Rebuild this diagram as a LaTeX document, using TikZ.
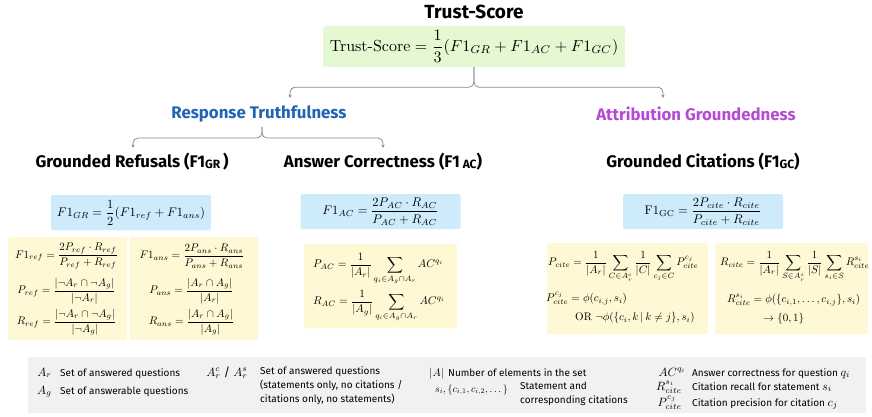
\documentclass[tikz,border=0pt]{standalone}
\usepackage{graphicx}
\usepackage{amsmath,amssymb}
\usepackage[no-math]{fontspec}
\newfontfamily\hfont{Fira Sans}
\usetikzlibrary{arrows.meta}
\definecolor{cgreen}{HTML}{E4F9D2}
\definecolor{cblue}{HTML}{CDEBFA}
\definecolor{cyellow}{HTML}{FFF8D4}
\definecolor{cgray}{HTML}{F1F1EF}
\definecolor{ctblue}{HTML}{2064B4}
\definecolor{cpurple}{HTML}{B64AD4}
\definecolor{cline}{HTML}{8C8C8C}
\tikzset{
  head/.style={inner sep=0pt, font=\hfont\bfseries\fontsize{16.8}{19}\selectfont},
  box/.style={rounded corners=1.5pt, inner sep=0pt},
  bluebox/.style={box, fill=cblue, minimum width=160pt, minimum height=35pt},
  ybox/.style={box, fill=cyellow},
  eq/.style={inner sep=0pt},
  conn/.style={draw=cline, line width=0.8pt, rounded corners=5pt, -{Stealth[length=3.5pt,width=3pt]}},
  legsym/.style={anchor=base east, inner sep=0pt},
  legtxt/.style={anchor=base west, inner sep=0pt, font=\hfont\fontsize{10}{14}\selectfont, align=left},
}
\newcommand{\subsc}[1]{\raisebox{-1pt}{\fontsize{12}{13}\selectfont #1}}
\newcommand{\dm}[2]{\scalebox{#1}{$\displaystyle #2$}}
\newcommand{\tm}[2]{\scalebox{#1}{$#2$}}
\begin{document}
\begin{tikzpicture}[x=1pt,y=-1pt]
\useasboundingbox[fill=white] (0,0) rectangle (872,417);

% title and overall score
\node[head, font=\hfont\bfseries\fontsize{19}{22}\selectfont] (title) at (474,12) {Trust-Score};
\node[box, fill=cgreen, minimum width=302pt, minimum height=41pt] (ts) at (474,46.5)
  {\dm{1.6}{\text{Trust-Score} = \frac{1}{3}(F1_{GR}+F1_{AC}+F1_{GC})}};

% categories
\node[head, text=ctblue] (rt) at (259,114) {Response Truthfulness};
\node[head, text=cpurple] (ag) at (696,114) {Attribution Groundedness};
\coordinate (rtin) at (290,98);
\coordinate (agin) at (663,98);
\draw[conn] (ts.south) -- ++(0,20) -| (rtin);
\draw[conn] (ts.south) -- ++(0,20) -| (agin);

% sub-metrics headings
\node[head] (gr) at (132,162) {Grounded Refusals (F1\subsc{GR}\,)};
\node[head] (ac) at (383,162) {Answer Correctness (F1\,\subsc{AC})};
\node[head] (gc) at (703,162) {Grounded Citations (F1\subsc{GC})};
\coordinate (rtout) at (262,127);
\coordinate (grin) at (133,148);
\coordinate (acin) at (383,148);
\draw[conn] (rtout) -- ++(0,11) -| (grin);
\draw[conn] (rtout) -- ++(0,11) -| (acin);

% blue boxes
\node[bluebox] (grf) at (131,212.5) {\dm{1.25}{F1_{GR} = \frac{1}{2}(F1_{ref}+F1_{ans})}};
\node[bluebox] (acf) at (380.5,211.5) {\dm{1.25}{F1_{AC} = \frac{2P_{AC}\cdot R_{AC}}{P_{AC}+R_{AC}}}};
\node[bluebox] (gcf) at (703,211.5) {\dm{1.25}{\mathrm{F1}_{\mathrm{GC}} = \frac{2P_{cite}\cdot R_{cite}}{P_{cite}+R_{cite}}}};

% yellow boxes
\node[ybox, minimum width=119pt, minimum height=103pt] (yl1) at (67.5,288.5) {};
\node[ybox, minimum width=128pt, minimum height=103pt] (yl2) at (194,288.5) {};
\node[ybox, minimum width=153pt, minimum height=84pt] (yac) at (380.5,286) {};
\node[ybox, minimum width=161pt, minimum height=91pt] (yg1) at (627.5,288.5) {};
\node[ybox, minimum width=153pt, minimum height=91pt] (yg2) at (791.5,288.5) {};

\node[eq] (e1) at (66.5,256) {\dm{1.1}{F1_{ref} = \frac{2P_{ref}\cdot R_{ref}}{P_{ref}+R_{ref}}}};
\node[eq] (e2) at (66.5,291) {\dm{1.1}{P_{ref} = \frac{|\neg A_r\cap\neg A_g|}{|\neg A_r|}}};
\node[eq] (e3) at (66.5,322) {\dm{1.1}{R_{ref} = \frac{|\neg A_r\cap\neg A_g|}{|\neg A_g|}}};
\node[eq] (e4) at (192,256) {\dm{1.1}{F1_{ans} = \frac{2P_{ans}\cdot R_{ans}}{P_{ans}+R_{ans}}}};
\node[eq] (e5) at (191.5,291) {\dm{1.1}{P_{ans} = \frac{|A_r\cap A_g|}{|A_r|}}};
\node[eq] (e6) at (191.5,322) {\dm{1.1}{R_{ans} = \frac{|A_r\cap A_g|}{|A_g|}}};

\node[eq, anchor=base west] (e7) at (313,267.75) {\dm{1.12}{P_{AC} = \frac{1}{|A_r|}\sum_{q_i\in A_g\cap A_r} AC^{q_i}}};
\node[eq, anchor=base west] (e8) at (313,304.75) {\dm{1.12}{R_{AC} = \frac{1}{|A_g|}\sum_{q_i\in A_g\cap A_r} AC^{q_i}}};

\node[eq, anchor=base west] (e9) at (548,265.75) {\dm{1.1}{P_{cite} = \frac{1}{|A_r|}\sum_{C\in A_r^c}\frac{1}{|C|}\sum_{c_j\in C}P_{cite}^{c_j}}};
\node[eq, anchor=base west] (e10) at (546,301.75) {\dm{1.1}{P_{cite}^{c_j} = \phi(c_{i,j},s_i)}};
\node[eq, anchor=base west] (e11) at (575,320.5) {\tm{1.1}{\text{OR}\ \neg\phi(\{c_i,k\,|\,k\neq j\},s_i)}};
\node[eq, anchor=base west] (e12) at (720,265.75) {\dm{1.1}{R_{cite} = \frac{1}{|A_r|}\sum_{S\in A_r^s}\frac{1}{|S|}\sum_{s_i\in S}R_{cite}^{s_i}}};
\node[eq, anchor=base west] (e13) at (727,302.75) {\dm{1.1}{R_{cite}^{s_i} = \phi(\{c_{i,1},\dots,c_{i,j}\},s_i)}};
\node[eq, anchor=base west] (e14) at (763,321.5) {\tm{1.1}{\rightarrow\{0,1\}}};

% legend
\node[box, fill=cgray, minimum width=838pt, minimum height=56pt] (leg) at (447,385) {};
\node[legsym] (s1) at (52,376) {\tm{1.2}{A_r}};
\node[legtxt] (t1) at (60,376) {Set of answered questions};
\node[legsym] (s2) at (52,394) {\tm{1.2}{A_g}};
\node[legtxt] (t2) at (60,394) {Set of answerable questions};
\node[legsym] (s3) at (248,376) {\tm{1.2}{A_r^c\;\text{\hfont /}\;A_r^s}};
\node[legtxt, anchor=north west] (t3) at (260,366) {Set of answered questions\\(statements only, no citations /\\citations only, no statements)};
\node[legsym] (s4) at (444,376) {\tm{1.1}{|A|}};
\node[legtxt] (t4) at (448,376) {Number of elements in the set};
\node[legsym, anchor=base west] (s5) at (435,392) {$s_i,\{c_{i,1},c_{i,2},\dots\}$};
\node[legtxt, anchor=north west] (t5) at (520,382) {Statement and\\corresponding citations};
\node[legsym] (s6) at (686,376) {\tm{1.2}{AC^{q_i}}};
\node[legtxt] (t6) at (692,376) {Answer correctness for question \tm{1.2}{q_i}};
\node[legsym] (s7) at (682,390) {\tm{1.2}{R_{cite}^{s_i}}};
\node[legtxt] (t7) at (692,390) {Citation recall for statement \tm{1.2}{s_i}};
\node[legsym] (s8) at (682,406) {\tm{1.2}{P_{cite}^{c_j}}};
\node[legtxt] (t8) at (692,406) {Citation precision for citation \tm{1.2}{c_j}};
\end{tikzpicture}
\end{document}
